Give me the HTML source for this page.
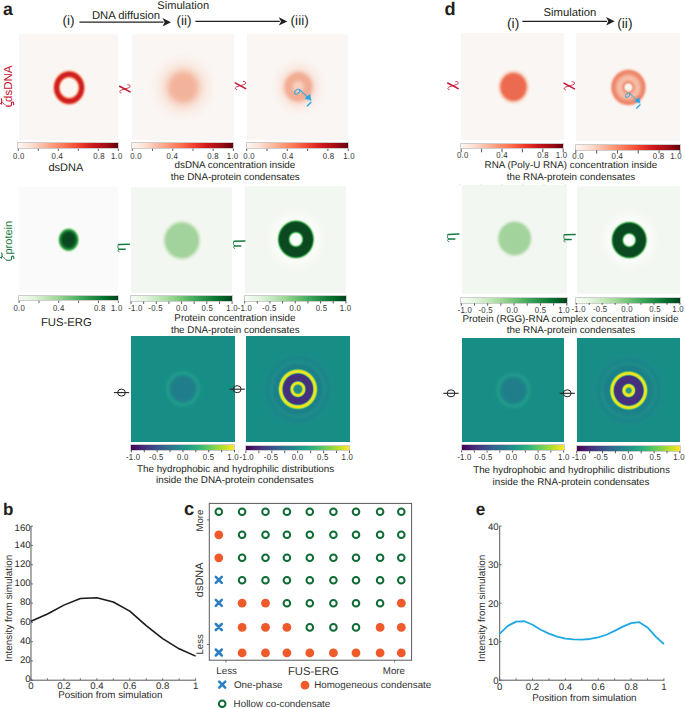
<!DOCTYPE html>
<html><head><meta charset="utf-8"><style>
html,body{margin:0;padding:0;background:#fff;}
body{width:685px;height:708px;position:relative;overflow:hidden;font-family:"Liberation Sans",sans-serif;}
svg{position:absolute;left:0;top:0;text-rendering:geometricPrecision;}
</style></head><body>
<div style="position:absolute;left:18.6px;top:33.8px;width:99.4px;height:106.7px;background:radial-gradient(ellipse 100px 108px at 50.1px 53.7px,#fcf6f3 0px,#fcf6f3 7.6px,#f8cdbd 8.8px,#ef6a4c 10px,#d42a2a 11px,#ca1d24 12.2px,#cc2026 13.4px,#e0483a 14.4px,#f29d85 15.4px,#f9dfd5 16.4px,rgba(250,246,243,0) 17.5px),#faf6f3;"></div>
<div style="position:absolute;left:132.3px;top:33.5px;width:101.5px;height:106.2px;background:radial-gradient(ellipse 100px 103px at 51.2px 53.2px,#f3b39b 0px,#f3b49c 10.5px,#f4bca6 13px,#f6cbb9 15.5px,#f8dccf 18.5px,#f9e8e0 22px,#faf0eb 27px,rgba(250,246,243,0) 34px),#faf6f3;"></div>
<div style="position:absolute;left:247px;top:34px;width:101.2px;height:105.7px;background:radial-gradient(ellipse 100px 105px at 51.4px 52.9px,#f8d3c4 0px,#f7ccbb 3.8px,#f4b9a3 6px,#f2ad94 8.2px,#f2ad94 11.2px,#f4bba6 13.2px,#f7d3c6 15px,#f9e6de 17.5px,#faf0eb 22px,rgba(250,246,243,0) 28px),#faf6f3;"></div>
<div style="position:absolute;left:460.9px;top:33px;width:102.9px;height:106.6px;background:radial-gradient(ellipse 100px 107px at 52.5px 53.9px,#ec6a4f 0px,#ec6a4f 10.6px,#ee7a60 11.9px,#f3a48e 13.2px,#f8d3c5 14.5px,#faebe4 15.9px,rgba(250,246,243,0) 17.5px),#faf6f3;"></div>
<div style="position:absolute;left:576.1px;top:33px;width:104.3px;height:108.4px;background:radial-gradient(ellipse 100px 103px at 52.4px 54.4px,#fdf4ef 0px,#fcf1ec 2.9px,#f5c0ac 3.9px,#f0977c 4.9px,#f2a68d 6.2px,#f5bca6 8px,#f5b9a3 10.5px,#f09a7f 12.8px,#ee866a 14.6px,#ef8d71 15.8px,#f3ad97 16.8px,#f8d8cc 17.8px,#faeee8 18.7px,rgba(250,246,243,0) 19.6px),#faf6f3;"></div>
<div style="position:absolute;left:19px;top:186.6px;width:99.2px;height:105px;background:radial-gradient(ellipse 100px 112px at 49.6px 52.8px,#09441c 0px,#0b4a20 5.4px,#0f5c29 6.9px,#1d7f3c 8px,#3a9e50 8.8px,#7cc67b 9.6px,#c8e7c2 10.4px,#f3f9f1 11.2px,rgba(250,250,250,0) 12px),#fafafa;"></div>
<div style="position:absolute;left:131.1px;top:186.8px;width:101.1px;height:106.2px;background:radial-gradient(ellipse 100px 104px at 50.9px 53.4px,#a3d39c 0px,#a3d39c 14.8px,#b0d9a9 16.2px,#cde7c7 17.6px,#e6f1e2 19px,rgba(243,247,241,0) 20.5px),#f3f7f1;"></div>
<div style="position:absolute;left:244.9px;top:186.4px;width:101.3px;height:106.3px;background:radial-gradient(ellipse 100px 105px at 50.9px 53.4px,#fcfdfc 0px,#fbfdfb 5.2px,#b8e0b0 6px,#48b058 6.8px,#14622c 7.6px,#0b4a20 8.4px,#0b4a20 15.8px,#14622c 16.6px,#44ac55 17.4px,#b8e0b0 18.2px,#f7fbf6 19.2px,#f9fbf8 21.5px,#f6f9f4 25.5px,rgba(243,247,241,0) 31.5px),#f3f7f1;"></div>
<div style="position:absolute;left:461.8px;top:185.3px;width:105px;height:108.6px;background:radial-gradient(ellipse 100px 103px at 52.6px 53.5px,#a3d39c 0px,#a4d49d 14px,#b0d9a9 15.2px,#cde7c7 16.4px,#e6f1e2 17.6px,rgba(243,247,241,0) 19px),#f3f7f1;"></div>
<div style="position:absolute;left:576.8px;top:185.7px;width:103.5px;height:108.2px;background:radial-gradient(ellipse 100px 104px at 52.2px 54.1px,#fcfdfc 0px,#fbfdfb 4.8px,#b8e0b0 5.6px,#48b058 6.4px,#14622c 7.2px,#0b4a20 8px,#0b4a20 15.4px,#14622c 16.2px,#44ac55 17px,#b8e0b0 17.8px,#f7fbf6 18.8px,#f9fbf8 21px,#f6f9f4 25px,rgba(243,247,241,0) 31px),#f3f7f1;"></div>
<div style="position:absolute;left:131.4px;top:336.1px;width:103.3px;height:105.5px;background:radial-gradient(ellipse 100px 103px at 52px 52.8px,#1f7e8a 0px,#1f7e8a 10px,#1f828a 11.5px,#1f8b8a 13px,#1f968a 14.5px,#1f9a89 15.6px,#1c9488 17px,#188f87 18.5px,rgba(22,142,134,0) 20px),#168e86;"></div>
<div style="position:absolute;left:245.9px;top:336.3px;width:104px;height:106.1px;background:radial-gradient(ellipse 100px 103px at 51.9px 53.2px,#23898b 0px,#23898b 3.4px,#4fb46c 4.3px,#d2e127 5px,#f2e51d 5.6px,#f2e51d 6.5px,#b6d93a 7.1px,#3a8a8c 7.7px,#40487f 8.2px,#462f7c 8.7px,#462f7c 14.2px,#40487f 14.7px,#3a8a8c 15.2px,#9ed547 15.8px,#efe41f 16.5px,#f2e51d 17.8px,#c8df30 18.5px,#58b964 19.2px,#1f8e89 19.9px,#1b7f8a 20.7px,#1c818a 23px,#1e8c89 26.5px,#1a868a 30px,#1b8c88 34px,rgba(22,142,134,0) 38px),#168e86;"></div>
<div style="position:absolute;left:461.9px;top:338px;width:102px;height:104px;background:radial-gradient(ellipse 100px 103px at 51.5px 52.4px,#1f7e8a 0px,#1f7e8a 10px,#1f828a 11.5px,#1f8b8a 13px,#1f968a 14.5px,#1f9a89 15.6px,#1c9488 17px,#188f87 18.5px,rgba(22,142,134,0) 20px),#168e86;"></div>
<div style="position:absolute;left:576.8px;top:338px;width:103.5px;height:104.4px;background:radial-gradient(ellipse 100px 102px at 51.7px 52.5px,#2a9f88 0px,#27988a 2.2px,#6cc35c 2.9px,#d8e22a 3.6px,#f2e51d 4.2px,#f2e51d 5.4px,#b6d93a 6px,#3a8a8c 6.6px,#40487f 7.1px,#462f7c 7.6px,#462f7c 13.8px,#40487f 14.3px,#3a8a8c 14.8px,#9ed547 15.4px,#efe41f 16.1px,#f2e51d 17.2px,#c8df30 17.9px,#58b964 18.6px,#1f8e89 19.3px,#1b7f8a 20.1px,#1c818a 23px,#1e8c89 26.5px,#1a868a 30px,#1b8c88 34px,rgba(22,142,134,0) 38px),#168e86;"></div>
<div style="position:absolute;left:18.3px;top:143.4px;width:100px;height:5px;background:linear-gradient(to right,#fff5f0,#fee0d2,#fcbba1,#fc9272,#fb6a4a,#ef3b2c,#cb181d,#a50f15,#67000d);box-shadow:0 0 0 0.8px rgba(150,150,150,0.6);"></div>
<div style="position:absolute;left:132.3px;top:143.2px;width:101.1px;height:5.2px;background:linear-gradient(to right,#fff5f0,#fee0d2,#fcbba1,#fc9272,#fb6a4a,#ef3b2c,#cb181d,#a50f15,#67000d);box-shadow:0 0 0 0.8px rgba(150,150,150,0.6);"></div>
<div style="position:absolute;left:246.7px;top:143.4px;width:101.5px;height:5px;background:linear-gradient(to right,#fff5f0,#fee0d2,#fcbba1,#fc9272,#fb6a4a,#ef3b2c,#cb181d,#a50f15,#67000d);box-shadow:0 0 0 0.8px rgba(150,150,150,0.6);"></div>
<div style="position:absolute;left:461.2px;top:143.5px;width:102px;height:4.9px;background:linear-gradient(to right,#fff5f0,#fee0d2,#fcbba1,#fc9272,#fb6a4a,#ef3b2c,#cb181d,#a50f15,#67000d);box-shadow:0 0 0 0.8px rgba(150,150,150,0.6);"></div>
<div style="position:absolute;left:575.8px;top:145.1px;width:104.1px;height:4.8px;background:linear-gradient(to right,#fff5f0,#fee0d2,#fcbba1,#fc9272,#fb6a4a,#ef3b2c,#cb181d,#a50f15,#67000d);box-shadow:0 0 0 0.8px rgba(150,150,150,0.6);"></div>
<div style="position:absolute;left:19.1px;top:295.5px;width:99.2px;height:4.9px;background:linear-gradient(to right,#f7fcf5,#e5f5e0,#c7e9c0,#a1d99b,#74c476,#41ab5d,#238b45,#006d2c,#00441b);box-shadow:0 0 0 0.8px rgba(150,150,150,0.6);"></div>
<div style="position:absolute;left:131px;top:296.4px;width:101.1px;height:4.7px;background:linear-gradient(to right,#f7fcf5,#e5f5e0,#c7e9c0,#a1d99b,#74c476,#41ab5d,#238b45,#006d2c,#00441b);box-shadow:0 0 0 0.8px rgba(150,150,150,0.6);"></div>
<div style="position:absolute;left:244.6px;top:296.4px;width:101.3px;height:4.4px;background:linear-gradient(to right,#f7fcf5,#e5f5e0,#c7e9c0,#a1d99b,#74c476,#41ab5d,#238b45,#006d2c,#00441b);box-shadow:0 0 0 0.8px rgba(150,150,150,0.6);"></div>
<div style="position:absolute;left:461.3px;top:298.1px;width:105.5px;height:4.8px;background:linear-gradient(to right,#f7fcf5,#e5f5e0,#c7e9c0,#a1d99b,#74c476,#41ab5d,#238b45,#006d2c,#00441b);box-shadow:0 0 0 0.8px rgba(150,150,150,0.6);"></div>
<div style="position:absolute;left:576.3px;top:298px;width:103.6px;height:4.6px;background:linear-gradient(to right,#f7fcf5,#e5f5e0,#c7e9c0,#a1d99b,#74c476,#41ab5d,#238b45,#006d2c,#00441b);box-shadow:0 0 0 0.8px rgba(150,150,150,0.6);"></div>
<div style="position:absolute;left:131.4px;top:444.9px;width:103.1px;height:4.7px;background:linear-gradient(to right,#440154,#482878,#3e4989,#31688e,#26828e,#1f9e89,#35b779,#6ece58,#b5de2b,#fde725);box-shadow:0 0 0 0.8px rgba(150,150,150,0.6);"></div>
<div style="position:absolute;left:245.9px;top:445.6px;width:103.6px;height:4.6px;background:linear-gradient(to right,#440154,#482878,#3e4989,#31688e,#26828e,#1f9e89,#35b779,#6ece58,#b5de2b,#fde725);box-shadow:0 0 0 0.8px rgba(150,150,150,0.6);"></div>
<div style="position:absolute;left:461.6px;top:445.3px;width:102px;height:4.9px;background:linear-gradient(to right,#440154,#482878,#3e4989,#31688e,#26828e,#1f9e89,#35b779,#6ece58,#b5de2b,#fde725);box-shadow:0 0 0 0.8px rgba(150,150,150,0.6);"></div>
<div style="position:absolute;left:576.7px;top:446px;width:103.2px;height:4.6px;background:linear-gradient(to right,#440154,#482878,#3e4989,#31688e,#26828e,#1f9e89,#35b779,#6ece58,#b5de2b,#fde725);box-shadow:0 0 0 0.8px rgba(150,150,150,0.6);"></div>
<svg width="685" height="708" viewBox="0 0 685 708" font-family="Liberation Sans, sans-serif">
<text x="2.9" y="14.9" font-size="17.7" text-anchor="start" font-weight="bold" fill="#231f20" font-family="Liberation Sans" font-style="normal">a</text>
<text x="444.5" y="15.2" font-size="18.2" text-anchor="start" font-weight="bold" fill="#231f20" font-family="Liberation Sans" font-style="normal">d</text>
<text x="3.1" y="514.5" font-size="17" text-anchor="start" font-weight="bold" fill="#231f20" font-family="Liberation Sans" font-style="normal">b</text>
<text x="183.9" y="514.7" font-size="18.4" text-anchor="start" font-weight="bold" fill="#231f20" font-family="Liberation Sans" font-style="normal">c</text>
<text x="475.8" y="515.2" font-size="17.1" text-anchor="start" font-weight="bold" fill="#231f20" font-family="Liberation Sans" font-style="normal">e</text>
<text x="62.5" y="25.4" font-size="13.6" text-anchor="start" font-weight="normal" fill="#231f20" font-family="Liberation Sans" font-style="normal">(i)</text>
<line x1="79.4" y1="22.2" x2="163.5" y2="22.2" stroke="#231f20" stroke-width="1.3"/>
<path d="M171 22.2 L162.5 18 L164.7 22.2 L162.5 26.4 Z" fill="#231f20"/>
<text x="91.9" y="19" font-size="11.3" text-anchor="start" font-weight="normal" fill="#231f20" font-family="Liberation Sans" font-style="normal">DNA diffusion</text>
<text x="157.3" y="9.2" font-size="11.1" text-anchor="start" font-weight="normal" fill="#231f20" font-family="Liberation Sans" font-style="normal">Simulation</text>
<text x="176.4" y="25.4" font-size="13.6" text-anchor="start" font-weight="normal" fill="#231f20" font-family="Liberation Sans" font-style="normal">(ii)</text>
<line x1="195.4" y1="21.4" x2="279.8" y2="21.4" stroke="#231f20" stroke-width="1.3"/>
<path d="M287.3 21.4 L278.8 17.2 L281 21.4 L278.8 25.6 Z" fill="#231f20"/>
<text x="290.6" y="25.4" font-size="13.6" text-anchor="start" font-weight="normal" fill="#231f20" font-family="Liberation Sans" font-style="normal">(iii)</text>
<text x="507" y="27.5" font-size="13.8" text-anchor="start" font-weight="normal" fill="#231f20" font-family="Liberation Sans" font-style="normal">(i)</text>
<line x1="522.3" y1="21.3" x2="607.1" y2="21.3" stroke="#231f20" stroke-width="1.3"/>
<path d="M614.6 21.3 L606.1 17.1 L608.3 21.3 L606.1 25.5 Z" fill="#231f20"/>
<text x="543.5" y="15.8" font-size="11.3" text-anchor="start" font-weight="normal" fill="#231f20" font-family="Liberation Sans" font-style="normal">Simulation</text>
<text x="617.2" y="27.5" font-size="13.8" text-anchor="start" font-weight="normal" fill="#231f20" font-family="Liberation Sans" font-style="normal">(ii)</text>
<g transform="translate(124.9 88.75)" fill="none" stroke="#c4122f" stroke-linecap="round"><path d="M-5.3 -2.5 L5.2 3.2" stroke-width="1.45"/><path d="M2.8 -4.0 C4.8 -4.4 6.0 -2.6 4.8 -1.5 C3.5 -0.5 -1.0 0.2 -3.8 1.4 C-5.8 2.3 -5.6 4.0 -3.8 4.2" stroke-width="0.85"/></g>
<g transform="translate(240.5 85.4)" fill="none" stroke="#c4122f" stroke-linecap="round"><path d="M-5.3 -2.5 L5.2 3.2" stroke-width="1.45"/><path d="M2.8 -4.0 C4.8 -4.4 6.0 -2.6 4.8 -1.5 C3.5 -0.5 -1.0 0.2 -3.8 1.4 C-5.8 2.3 -5.6 4.0 -3.8 4.2" stroke-width="0.85"/></g>
<g transform="translate(453 85.5)" fill="none" stroke="#c4122f" stroke-linecap="round"><path d="M-5.3 -2.5 L5.2 3.2" stroke-width="1.45"/><path d="M2.8 -4.0 C4.8 -4.4 6.0 -2.6 4.8 -1.5 C3.5 -0.5 -1.0 0.2 -3.8 1.4 C-5.8 2.3 -5.6 4.0 -3.8 4.2" stroke-width="0.85"/></g>
<g transform="translate(569.3 85.7)" fill="none" stroke="#c4122f" stroke-linecap="round"><path d="M-5.3 -2.5 L5.2 3.2" stroke-width="1.45"/><path d="M2.8 -4.0 C4.8 -4.4 6.0 -2.6 4.8 -1.5 C3.5 -0.5 -1.0 0.2 -3.8 1.4 C-5.8 2.3 -5.6 4.0 -3.8 4.2" stroke-width="0.85"/></g>
<text x="0" y="0" font-size="11.5" text-anchor="start" font-weight="normal" fill="#c4122f" font-family="Liberation Sans" font-style="normal" transform="translate(11.7 102) rotate(-90)">dsDNA</text>
<g transform="translate(0 98.9)" fill="none" stroke="#c4122f" stroke-linecap="round"><path d="M1.4 -0.1 Q2.5 2.5 1.2 5.0" stroke-width="1.1"/><path d="M0.1 4.4 L1.2 5.0" stroke-width="0.8"/><path d="M1.6 2.9 L6.6 7.2" stroke-width="0.75"/><path d="M6.6 7.2 L10.2 7.2 Q11.5 7.1 11.4 5.6 L11.4 3.9 Q11.8 2.8 13.0 3.2 Q13.9 3.7 13.6 5.7" stroke-width="1.1"/></g>
<text x="65.85" y="171.3" font-size="11" text-anchor="middle" font-weight="normal" fill="#231f20" font-family="Liberation Sans" font-style="normal">dsDNA</text>
<text x="234.9" y="168.2" font-size="9.83" text-anchor="middle" font-weight="normal" fill="#231f20" font-family="Liberation Sans" font-style="normal">dsDNA concentration inside</text>
<text x="235.3" y="180.1" font-size="9.83" text-anchor="middle" font-weight="normal" fill="#231f20" font-family="Liberation Sans" font-style="normal">the DNA-protein condensates</text>
<text x="570.9" y="168" font-size="9.83" text-anchor="middle" font-weight="normal" fill="#231f20" font-family="Liberation Sans" font-style="normal">RNA (Poly-U RNA) concentration inside</text>
<text x="571" y="180.4" font-size="9.8" text-anchor="middle" font-weight="normal" fill="#231f20" font-family="Liberation Sans" font-style="normal">the RNA-protein condensates</text>
<line x1="460" y1="184" x2="460" y2="185.2" stroke="#c8c8c8" stroke-width="0.6"/>
<line x1="481" y1="184" x2="481" y2="185.2" stroke="#c8c8c8" stroke-width="0.6"/>
<line x1="502" y1="184" x2="502" y2="185.2" stroke="#c8c8c8" stroke-width="0.6"/>
<line x1="523" y1="184" x2="523" y2="185.2" stroke="#c8c8c8" stroke-width="0.6"/>
<line x1="544" y1="184" x2="544" y2="185.2" stroke="#c8c8c8" stroke-width="0.6"/>
<line x1="565" y1="184" x2="565" y2="185.2" stroke="#c8c8c8" stroke-width="0.6"/>
<g transform="translate(123.4 247.6)" fill="none" stroke="#167a41" stroke-linecap="round"><path d="M-4.9 -3.0 L5.9 -3.3" stroke-width="1.5"/><path d="M-4.9 -3.0 C-6.0 -2.4 -6.0 0.6 -4.5 1.7" stroke-width="0.9"/><path d="M-4.5 1.7 L1.8 1.7" stroke-width="1.5"/><path d="M-4.6 1.8 C-6.0 2.3 -5.8 3.9 -4.2 4.4" stroke-width="0.8"/></g>
<g transform="translate(239 244.2)" fill="none" stroke="#167a41" stroke-linecap="round"><path d="M-4.9 -3.0 L5.9 -3.3" stroke-width="1.5"/><path d="M-4.9 -3.0 C-6.0 -2.4 -6.0 0.6 -4.5 1.7" stroke-width="0.9"/><path d="M-4.5 1.7 L1.8 1.7" stroke-width="1.5"/><path d="M-4.6 1.8 C-6.0 2.3 -5.8 3.9 -4.2 4.4" stroke-width="0.8"/></g>
<g transform="translate(453 237.4)" fill="none" stroke="#167a41" stroke-linecap="round"><path d="M-4.9 -3.0 L5.9 -3.3" stroke-width="1.5"/><path d="M-4.9 -3.0 C-6.0 -2.4 -6.0 0.6 -4.5 1.7" stroke-width="0.9"/><path d="M-4.5 1.7 L1.8 1.7" stroke-width="1.5"/><path d="M-4.6 1.8 C-6.0 2.3 -5.8 3.9 -4.2 4.4" stroke-width="0.8"/></g>
<g transform="translate(569.3 237.7)" fill="none" stroke="#167a41" stroke-linecap="round"><path d="M-4.9 -3.0 L5.9 -3.3" stroke-width="1.5"/><path d="M-4.9 -3.0 C-6.0 -2.4 -6.0 0.6 -4.5 1.7" stroke-width="0.9"/><path d="M-4.5 1.7 L1.8 1.7" stroke-width="1.5"/><path d="M-4.6 1.8 C-6.0 2.3 -5.8 3.9 -4.2 4.4" stroke-width="0.8"/></g>
<text x="0" y="0" font-size="11" text-anchor="start" font-weight="normal" fill="#167a41" font-family="Liberation Sans" font-style="normal" transform="translate(12 254.5) rotate(-90)">protein</text>
<g transform="translate(0.2 253)" fill="none" stroke="#167a41" stroke-linecap="round"><path d="M1.4 -0.1 Q2.5 2.5 1.2 5.0" stroke-width="1.1"/><path d="M0.1 4.4 L1.2 5.0" stroke-width="0.8"/><path d="M1.6 2.9 L6.6 7.2" stroke-width="0.75"/><path d="M6.6 7.2 L10.2 7.2 Q11.5 7.1 11.4 5.6 L11.4 3.9 Q11.8 2.8 13.0 3.2 Q13.9 3.7 13.6 5.7" stroke-width="1.1"/></g>
<text x="66.4" y="325.6" font-size="11.3" text-anchor="middle" font-weight="normal" fill="#231f20" font-family="Liberation Sans" font-style="normal">FUS-ERG</text>
<text x="234.9" y="321" font-size="9.82" text-anchor="middle" font-weight="normal" fill="#231f20" font-family="Liberation Sans" font-style="normal">Protein concentration inside</text>
<text x="235.3" y="332.6" font-size="9.82" text-anchor="middle" font-weight="normal" fill="#231f20" font-family="Liberation Sans" font-style="normal">the DNA-protein condensates</text>
<text x="570.5" y="322.2" font-size="9.85" text-anchor="middle" font-weight="normal" fill="#231f20" font-family="Liberation Sans" font-style="normal">Protein (RGG)-RNA complex concentration inside</text>
<text x="571" y="332.9" font-size="9.8" text-anchor="middle" font-weight="normal" fill="#231f20" font-family="Liberation Sans" font-style="normal">the RNA-protein condensates</text>
<line x1="113.9" y1="392.6" x2="129.1" y2="392.6" stroke="#222" stroke-width="1.1"/>
<ellipse cx="121.5" cy="392.6" rx="3.9" ry="3.5" fill="none" stroke="#222" stroke-width="1.0"/>
<line x1="229.6" y1="389.2" x2="244.8" y2="389.2" stroke="#222" stroke-width="1.1"/>
<ellipse cx="237.2" cy="389.2" rx="3.9" ry="3.5" fill="none" stroke="#222" stroke-width="1.0"/>
<line x1="443.4" y1="393.3" x2="458.6" y2="393.3" stroke="#222" stroke-width="1.1"/>
<ellipse cx="451" cy="393.3" rx="3.9" ry="3.5" fill="none" stroke="#222" stroke-width="1.0"/>
<line x1="559.6" y1="393.3" x2="574.8" y2="393.3" stroke="#222" stroke-width="1.1"/>
<ellipse cx="567.2" cy="393.3" rx="3.9" ry="3.5" fill="none" stroke="#222" stroke-width="1.0"/>
<text x="235.6" y="471.8" font-size="9.83" text-anchor="middle" font-weight="normal" fill="#231f20" font-family="Liberation Sans" font-style="normal">The hydrophobic and hydrophilic distributions</text>
<text x="234.8" y="483.1" font-size="9.85" text-anchor="middle" font-weight="normal" fill="#231f20" font-family="Liberation Sans" font-style="normal">inside the DNA-protein condensates</text>
<text x="571.5" y="472.7" font-size="9.8" text-anchor="middle" font-weight="normal" fill="#231f20" font-family="Liberation Sans" font-style="normal">The hydrophobic and hydrophilic distributions</text>
<text x="571" y="484.5" font-size="9.8" text-anchor="middle" font-weight="normal" fill="#231f20" font-family="Liberation Sans" font-style="normal">inside the RNA-protein condensates</text>
<line x1="18.3" y1="148.8" x2="18.3" y2="150.9" stroke="#444" stroke-width="0.9"/>
<line x1="38.3" y1="148.8" x2="38.3" y2="150.9" stroke="#444" stroke-width="0.9"/>
<line x1="58.3" y1="148.8" x2="58.3" y2="150.9" stroke="#444" stroke-width="0.9"/>
<line x1="78.3" y1="148.8" x2="78.3" y2="150.9" stroke="#444" stroke-width="0.9"/>
<line x1="98.3" y1="148.8" x2="98.3" y2="150.9" stroke="#444" stroke-width="0.9"/>
<line x1="118.3" y1="148.8" x2="118.3" y2="150.9" stroke="#444" stroke-width="0.9"/>
<text x="0" y="0" font-size="7.8" text-anchor="start" font-weight="normal" fill="#333" font-family="Liberation Sans" font-style="normal" transform="translate(12.91 158.5) scale(1 1.12)" letter-spacing="0.25">0.0</text>
<text x="0" y="0" font-size="7.8" text-anchor="start" font-weight="normal" fill="#333" font-family="Liberation Sans" font-style="normal" transform="translate(51.59 158.5) scale(1 1.12)" letter-spacing="0.25">0.4</text>
<text x="0" y="0" font-size="7.8" text-anchor="start" font-weight="normal" fill="#333" font-family="Liberation Sans" font-style="normal" transform="translate(93.23 158.5) scale(1 1.12)" letter-spacing="0.25">0.8</text>
<text x="0" y="0" font-size="7.8" text-anchor="start" font-weight="normal" fill="#333" font-family="Liberation Sans" font-style="normal" transform="translate(111.02 158.5) scale(1 1.12)" letter-spacing="0.25">1.0</text>
<line x1="132.3" y1="148.8" x2="132.3" y2="150.8" stroke="#444" stroke-width="0.9"/>
<line x1="152.52" y1="148.8" x2="152.52" y2="150.8" stroke="#444" stroke-width="0.9"/>
<line x1="172.74" y1="148.8" x2="172.74" y2="150.8" stroke="#444" stroke-width="0.9"/>
<line x1="192.96" y1="148.8" x2="192.96" y2="150.8" stroke="#444" stroke-width="0.9"/>
<line x1="213.18" y1="148.8" x2="213.18" y2="150.8" stroke="#444" stroke-width="0.9"/>
<line x1="233.4" y1="148.8" x2="233.4" y2="150.8" stroke="#444" stroke-width="0.9"/>
<text x="0" y="0" font-size="7.8" text-anchor="start" font-weight="normal" fill="#333" font-family="Liberation Sans" font-style="normal" transform="translate(130.26 158.5) scale(1 1.12)" letter-spacing="0.25">0.0</text>
<text x="0" y="0" font-size="7.8" text-anchor="start" font-weight="normal" fill="#333" font-family="Liberation Sans" font-style="normal" transform="translate(166.44 158.5) scale(1 1.12)" letter-spacing="0.25">0.4</text>
<text x="0" y="0" font-size="7.8" text-anchor="start" font-weight="normal" fill="#333" font-family="Liberation Sans" font-style="normal" transform="translate(207.18 158.5) scale(1 1.12)" letter-spacing="0.25">0.8</text>
<text x="0" y="0" font-size="7.8" text-anchor="start" font-weight="normal" fill="#333" font-family="Liberation Sans" font-style="normal" transform="translate(226.67 158.5) scale(1 1.12)" letter-spacing="0.25">1.0</text>
<line x1="246.7" y1="148.8" x2="246.7" y2="151" stroke="#444" stroke-width="0.9"/>
<line x1="267" y1="148.8" x2="267" y2="151" stroke="#444" stroke-width="0.9"/>
<line x1="287.3" y1="148.8" x2="287.3" y2="151" stroke="#444" stroke-width="0.9"/>
<line x1="307.6" y1="148.8" x2="307.6" y2="151" stroke="#444" stroke-width="0.9"/>
<line x1="327.9" y1="148.8" x2="327.9" y2="151" stroke="#444" stroke-width="0.9"/>
<line x1="348.2" y1="148.8" x2="348.2" y2="151" stroke="#444" stroke-width="0.9"/>
<text x="0" y="0" font-size="7.8" text-anchor="start" font-weight="normal" fill="#333" font-family="Liberation Sans" font-style="normal" transform="translate(243.36 158.5) scale(1 1.12)" letter-spacing="0.25">0.0</text>
<text x="0" y="0" font-size="7.8" text-anchor="start" font-weight="normal" fill="#333" font-family="Liberation Sans" font-style="normal" transform="translate(281.99 158.5) scale(1 1.12)" letter-spacing="0.25">0.4</text>
<text x="0" y="0" font-size="7.8" text-anchor="start" font-weight="normal" fill="#333" font-family="Liberation Sans" font-style="normal" transform="translate(322.78 158.5) scale(1 1.12)" letter-spacing="0.25">0.8</text>
<text x="0" y="0" font-size="7.8" text-anchor="start" font-weight="normal" fill="#333" font-family="Liberation Sans" font-style="normal" transform="translate(343.27 158.5) scale(1 1.12)" letter-spacing="0.25">1.0</text>
<line x1="461.2" y1="148.8" x2="461.2" y2="152.3" stroke="#444" stroke-width="0.9"/>
<line x1="481.6" y1="148.8" x2="481.6" y2="152.3" stroke="#444" stroke-width="0.9"/>
<line x1="502" y1="148.8" x2="502" y2="152.3" stroke="#444" stroke-width="0.9"/>
<line x1="522.4" y1="148.8" x2="522.4" y2="152.3" stroke="#444" stroke-width="0.9"/>
<line x1="542.8" y1="148.8" x2="542.8" y2="152.3" stroke="#444" stroke-width="0.9"/>
<line x1="563.2" y1="148.8" x2="563.2" y2="152.3" stroke="#444" stroke-width="0.9"/>
<text x="0" y="0" font-size="7.8" text-anchor="start" font-weight="normal" fill="#333" font-family="Liberation Sans" font-style="normal" transform="translate(456.91 157.7) scale(1 1.12)" letter-spacing="0.25">0.0</text>
<text x="0" y="0" font-size="7.8" text-anchor="start" font-weight="normal" fill="#333" font-family="Liberation Sans" font-style="normal" transform="translate(496.34 157.7) scale(1 1.12)" letter-spacing="0.25">0.4</text>
<text x="0" y="0" font-size="7.8" text-anchor="start" font-weight="normal" fill="#333" font-family="Liberation Sans" font-style="normal" transform="translate(537.33 157.7) scale(1 1.12)" letter-spacing="0.25">0.8</text>
<text x="0" y="0" font-size="7.8" text-anchor="start" font-weight="normal" fill="#333" font-family="Liberation Sans" font-style="normal" transform="translate(555.72 157.7) scale(1 1.12)" letter-spacing="0.25">1.0</text>
<line x1="575.8" y1="150.3" x2="575.8" y2="153.5" stroke="#444" stroke-width="0.9"/>
<line x1="596.62" y1="150.3" x2="596.62" y2="153.5" stroke="#444" stroke-width="0.9"/>
<line x1="617.44" y1="150.3" x2="617.44" y2="153.5" stroke="#444" stroke-width="0.9"/>
<line x1="638.26" y1="150.3" x2="638.26" y2="153.5" stroke="#444" stroke-width="0.9"/>
<line x1="659.08" y1="150.3" x2="659.08" y2="153.5" stroke="#444" stroke-width="0.9"/>
<line x1="679.9" y1="150.3" x2="679.9" y2="153.5" stroke="#444" stroke-width="0.9"/>
<text x="0" y="0" font-size="7.8" text-anchor="start" font-weight="normal" fill="#333" font-family="Liberation Sans" font-style="normal" transform="translate(572.31 159.2) scale(1 1.12)" letter-spacing="0.25">0.0</text>
<text x="0" y="0" font-size="7.8" text-anchor="start" font-weight="normal" fill="#333" font-family="Liberation Sans" font-style="normal" transform="translate(611.59 159.2) scale(1 1.12)" letter-spacing="0.25">0.4</text>
<text x="0" y="0" font-size="7.8" text-anchor="start" font-weight="normal" fill="#333" font-family="Liberation Sans" font-style="normal" transform="translate(652.83 159.2) scale(1 1.12)" letter-spacing="0.25">0.8</text>
<text x="0" y="0" font-size="7.8" text-anchor="start" font-weight="normal" fill="#333" font-family="Liberation Sans" font-style="normal" transform="translate(670.22 159.2) scale(1 1.12)" letter-spacing="0.25">1.0</text>
<line x1="19.1" y1="300.8" x2="19.1" y2="302.9" stroke="#444" stroke-width="0.9"/>
<line x1="38.94" y1="300.8" x2="38.94" y2="302.9" stroke="#444" stroke-width="0.9"/>
<line x1="58.78" y1="300.8" x2="58.78" y2="302.9" stroke="#444" stroke-width="0.9"/>
<line x1="78.62" y1="300.8" x2="78.62" y2="302.9" stroke="#444" stroke-width="0.9"/>
<line x1="98.46" y1="300.8" x2="98.46" y2="302.9" stroke="#444" stroke-width="0.9"/>
<line x1="118.3" y1="300.8" x2="118.3" y2="302.9" stroke="#444" stroke-width="0.9"/>
<text x="0" y="0" font-size="7.8" text-anchor="start" font-weight="normal" fill="#333" font-family="Liberation Sans" font-style="normal" transform="translate(13.51 311.2) scale(1 1.12)" letter-spacing="0.25">0.0</text>
<text x="0" y="0" font-size="7.8" text-anchor="start" font-weight="normal" fill="#333" font-family="Liberation Sans" font-style="normal" transform="translate(52.89 311.2) scale(1 1.12)" letter-spacing="0.25">0.4</text>
<text x="0" y="0" font-size="7.8" text-anchor="start" font-weight="normal" fill="#333" font-family="Liberation Sans" font-style="normal" transform="translate(93.93 311.2) scale(1 1.12)" letter-spacing="0.25">0.8</text>
<text x="0" y="0" font-size="7.8" text-anchor="start" font-weight="normal" fill="#333" font-family="Liberation Sans" font-style="normal" transform="translate(111.02 311.2) scale(1 1.12)" letter-spacing="0.25">1.0</text>
<line x1="131" y1="301.5" x2="131" y2="303.9" stroke="#444" stroke-width="0.9"/>
<line x1="143.64" y1="301.5" x2="143.64" y2="303.9" stroke="#444" stroke-width="0.9"/>
<line x1="156.28" y1="301.5" x2="156.28" y2="303.9" stroke="#444" stroke-width="0.9"/>
<line x1="168.91" y1="301.5" x2="168.91" y2="303.9" stroke="#444" stroke-width="0.9"/>
<line x1="181.55" y1="301.5" x2="181.55" y2="303.9" stroke="#444" stroke-width="0.9"/>
<line x1="194.19" y1="301.5" x2="194.19" y2="303.9" stroke="#444" stroke-width="0.9"/>
<line x1="206.82" y1="301.5" x2="206.82" y2="303.9" stroke="#444" stroke-width="0.9"/>
<line x1="219.46" y1="301.5" x2="219.46" y2="303.9" stroke="#444" stroke-width="0.9"/>
<line x1="232.1" y1="301.5" x2="232.1" y2="303.9" stroke="#444" stroke-width="0.9"/>
<text x="0" y="0" font-size="7.8" text-anchor="start" font-weight="normal" fill="#333" font-family="Liberation Sans" font-style="normal" transform="translate(128.23 310.9) scale(1 1.12)" letter-spacing="0.25">-1.0</text>
<text x="0" y="0" font-size="7.8" text-anchor="start" font-weight="normal" fill="#333" font-family="Liberation Sans" font-style="normal" transform="translate(148.35 310.9) scale(1 1.12)" letter-spacing="0.25">-0.5</text>
<text x="0" y="0" font-size="7.8" text-anchor="start" font-weight="normal" fill="#333" font-family="Liberation Sans" font-style="normal" transform="translate(176.01 310.9) scale(1 1.12)" letter-spacing="0.25">0.0</text>
<text x="0" y="0" font-size="7.8" text-anchor="start" font-weight="normal" fill="#333" font-family="Liberation Sans" font-style="normal" transform="translate(201.53 310.9) scale(1 1.12)" letter-spacing="0.25">0.5</text>
<text x="0" y="0" font-size="7.8" text-anchor="start" font-weight="normal" fill="#333" font-family="Liberation Sans" font-style="normal" transform="translate(226.32 310.9) scale(1 1.12)" letter-spacing="0.25">1.0</text>
<line x1="244.6" y1="301.2" x2="244.6" y2="303.5" stroke="#444" stroke-width="0.9"/>
<line x1="257.26" y1="301.2" x2="257.26" y2="303.5" stroke="#444" stroke-width="0.9"/>
<line x1="269.93" y1="301.2" x2="269.93" y2="303.5" stroke="#444" stroke-width="0.9"/>
<line x1="282.59" y1="301.2" x2="282.59" y2="303.5" stroke="#444" stroke-width="0.9"/>
<line x1="295.25" y1="301.2" x2="295.25" y2="303.5" stroke="#444" stroke-width="0.9"/>
<line x1="307.91" y1="301.2" x2="307.91" y2="303.5" stroke="#444" stroke-width="0.9"/>
<line x1="320.57" y1="301.2" x2="320.57" y2="303.5" stroke="#444" stroke-width="0.9"/>
<line x1="333.24" y1="301.2" x2="333.24" y2="303.5" stroke="#444" stroke-width="0.9"/>
<line x1="345.9" y1="301.2" x2="345.9" y2="303.5" stroke="#444" stroke-width="0.9"/>
<text x="0" y="0" font-size="7.8" text-anchor="start" font-weight="normal" fill="#333" font-family="Liberation Sans" font-style="normal" transform="translate(237.68 310.9) scale(1 1.12)" letter-spacing="0.25">-1.0</text>
<text x="0" y="0" font-size="7.8" text-anchor="start" font-weight="normal" fill="#333" font-family="Liberation Sans" font-style="normal" transform="translate(262.1 310.9) scale(1 1.12)" letter-spacing="0.25">-0.5</text>
<text x="0" y="0" font-size="7.8" text-anchor="start" font-weight="normal" fill="#333" font-family="Liberation Sans" font-style="normal" transform="translate(289.56 310.9) scale(1 1.12)" letter-spacing="0.25">0.0</text>
<text x="0" y="0" font-size="7.8" text-anchor="start" font-weight="normal" fill="#333" font-family="Liberation Sans" font-style="normal" transform="translate(315.63 310.9) scale(1 1.12)" letter-spacing="0.25">0.5</text>
<text x="0" y="0" font-size="7.8" text-anchor="start" font-weight="normal" fill="#333" font-family="Liberation Sans" font-style="normal" transform="translate(339.72 310.9) scale(1 1.12)" letter-spacing="0.25">1.0</text>
<line x1="461.3" y1="303.3" x2="461.3" y2="305.7" stroke="#444" stroke-width="0.9"/>
<line x1="474.49" y1="303.3" x2="474.49" y2="305.7" stroke="#444" stroke-width="0.9"/>
<line x1="487.68" y1="303.3" x2="487.68" y2="305.7" stroke="#444" stroke-width="0.9"/>
<line x1="500.86" y1="303.3" x2="500.86" y2="305.7" stroke="#444" stroke-width="0.9"/>
<line x1="514.05" y1="303.3" x2="514.05" y2="305.7" stroke="#444" stroke-width="0.9"/>
<line x1="527.24" y1="303.3" x2="527.24" y2="305.7" stroke="#444" stroke-width="0.9"/>
<line x1="540.42" y1="303.3" x2="540.42" y2="305.7" stroke="#444" stroke-width="0.9"/>
<line x1="553.61" y1="303.3" x2="553.61" y2="305.7" stroke="#444" stroke-width="0.9"/>
<line x1="566.8" y1="303.3" x2="566.8" y2="305.7" stroke="#444" stroke-width="0.9"/>
<text x="0" y="0" font-size="7.8" text-anchor="start" font-weight="normal" fill="#333" font-family="Liberation Sans" font-style="normal" transform="translate(457.58 312.6) scale(1 1.12)" letter-spacing="0.25">-1.0</text>
<text x="0" y="0" font-size="7.8" text-anchor="start" font-weight="normal" fill="#333" font-family="Liberation Sans" font-style="normal" transform="translate(478.45 312.6) scale(1 1.12)" letter-spacing="0.25">-0.5</text>
<text x="0" y="0" font-size="7.8" text-anchor="start" font-weight="normal" fill="#333" font-family="Liberation Sans" font-style="normal" transform="translate(506.56 312.6) scale(1 1.12)" letter-spacing="0.25">0.0</text>
<text x="0" y="0" font-size="7.8" text-anchor="start" font-weight="normal" fill="#333" font-family="Liberation Sans" font-style="normal" transform="translate(534.63 312.6) scale(1 1.12)" letter-spacing="0.25">0.5</text>
<text x="0" y="0" font-size="7.8" text-anchor="start" font-weight="normal" fill="#333" font-family="Liberation Sans" font-style="normal" transform="translate(558.32 312.6) scale(1 1.12)" letter-spacing="0.25">1.0</text>
<line x1="576.3" y1="303" x2="576.3" y2="304.8" stroke="#444" stroke-width="0.9"/>
<line x1="589.25" y1="303" x2="589.25" y2="304.8" stroke="#444" stroke-width="0.9"/>
<line x1="602.2" y1="303" x2="602.2" y2="304.8" stroke="#444" stroke-width="0.9"/>
<line x1="615.15" y1="303" x2="615.15" y2="304.8" stroke="#444" stroke-width="0.9"/>
<line x1="628.1" y1="303" x2="628.1" y2="304.8" stroke="#444" stroke-width="0.9"/>
<line x1="641.05" y1="303" x2="641.05" y2="304.8" stroke="#444" stroke-width="0.9"/>
<line x1="654" y1="303" x2="654" y2="304.8" stroke="#444" stroke-width="0.9"/>
<line x1="666.95" y1="303" x2="666.95" y2="304.8" stroke="#444" stroke-width="0.9"/>
<line x1="679.9" y1="303" x2="679.9" y2="304.8" stroke="#444" stroke-width="0.9"/>
<text x="0" y="0" font-size="7.8" text-anchor="start" font-weight="normal" fill="#333" font-family="Liberation Sans" font-style="normal" transform="translate(571.38 312.1) scale(1 1.12)" letter-spacing="0.25">-1.0</text>
<text x="0" y="0" font-size="7.8" text-anchor="start" font-weight="normal" fill="#333" font-family="Liberation Sans" font-style="normal" transform="translate(592.95 312.1) scale(1 1.12)" letter-spacing="0.25">-0.5</text>
<text x="0" y="0" font-size="7.8" text-anchor="start" font-weight="normal" fill="#333" font-family="Liberation Sans" font-style="normal" transform="translate(621.26 312.1) scale(1 1.12)" letter-spacing="0.25">0.0</text>
<text x="0" y="0" font-size="7.8" text-anchor="start" font-weight="normal" fill="#333" font-family="Liberation Sans" font-style="normal" transform="translate(649.18 312.1) scale(1 1.12)" letter-spacing="0.25">0.5</text>
<text x="0" y="0" font-size="7.8" text-anchor="start" font-weight="normal" fill="#333" font-family="Liberation Sans" font-style="normal" transform="translate(672.32 312.1) scale(1 1.12)" letter-spacing="0.25">1.0</text>
<line x1="131.4" y1="450" x2="131.4" y2="452.3" stroke="#444" stroke-width="0.9"/>
<line x1="144.29" y1="450" x2="144.29" y2="452.3" stroke="#444" stroke-width="0.9"/>
<line x1="157.18" y1="450" x2="157.18" y2="452.3" stroke="#444" stroke-width="0.9"/>
<line x1="170.06" y1="450" x2="170.06" y2="452.3" stroke="#444" stroke-width="0.9"/>
<line x1="182.95" y1="450" x2="182.95" y2="452.3" stroke="#444" stroke-width="0.9"/>
<line x1="195.84" y1="450" x2="195.84" y2="452.3" stroke="#444" stroke-width="0.9"/>
<line x1="208.72" y1="450" x2="208.72" y2="452.3" stroke="#444" stroke-width="0.9"/>
<line x1="221.61" y1="450" x2="221.61" y2="452.3" stroke="#444" stroke-width="0.9"/>
<line x1="234.5" y1="450" x2="234.5" y2="452.3" stroke="#444" stroke-width="0.9"/>
<text x="0" y="0" font-size="7.8" text-anchor="start" font-weight="normal" fill="#333" font-family="Liberation Sans" font-style="normal" transform="translate(125.98 460.3) scale(1 1.12)" letter-spacing="0.25">-1.0</text>
<text x="0" y="0" font-size="7.8" text-anchor="start" font-weight="normal" fill="#333" font-family="Liberation Sans" font-style="normal" transform="translate(149.05 460.3) scale(1 1.12)" letter-spacing="0.25">-0.5</text>
<text x="0" y="0" font-size="7.8" text-anchor="start" font-weight="normal" fill="#333" font-family="Liberation Sans" font-style="normal" transform="translate(177.11 460.3) scale(1 1.12)" letter-spacing="0.25">0.0</text>
<text x="0" y="0" font-size="7.8" text-anchor="start" font-weight="normal" fill="#333" font-family="Liberation Sans" font-style="normal" transform="translate(202.78 460.3) scale(1 1.12)" letter-spacing="0.25">0.5</text>
<text x="0" y="0" font-size="7.8" text-anchor="start" font-weight="normal" fill="#333" font-family="Liberation Sans" font-style="normal" transform="translate(227.32 460.3) scale(1 1.12)" letter-spacing="0.25">1.0</text>
<line x1="245.9" y1="450.6" x2="245.9" y2="453.1" stroke="#444" stroke-width="0.9"/>
<line x1="258.85" y1="450.6" x2="258.85" y2="453.1" stroke="#444" stroke-width="0.9"/>
<line x1="271.8" y1="450.6" x2="271.8" y2="453.1" stroke="#444" stroke-width="0.9"/>
<line x1="284.75" y1="450.6" x2="284.75" y2="453.1" stroke="#444" stroke-width="0.9"/>
<line x1="297.7" y1="450.6" x2="297.7" y2="453.1" stroke="#444" stroke-width="0.9"/>
<line x1="310.65" y1="450.6" x2="310.65" y2="453.1" stroke="#444" stroke-width="0.9"/>
<line x1="323.6" y1="450.6" x2="323.6" y2="453.1" stroke="#444" stroke-width="0.9"/>
<line x1="336.55" y1="450.6" x2="336.55" y2="453.1" stroke="#444" stroke-width="0.9"/>
<line x1="349.5" y1="450.6" x2="349.5" y2="453.1" stroke="#444" stroke-width="0.9"/>
<text x="0" y="0" font-size="7.8" text-anchor="start" font-weight="normal" fill="#333" font-family="Liberation Sans" font-style="normal" transform="translate(239.48 460.3) scale(1 1.12)" letter-spacing="0.25">-1.0</text>
<text x="0" y="0" font-size="7.8" text-anchor="start" font-weight="normal" fill="#333" font-family="Liberation Sans" font-style="normal" transform="translate(263.8 460.3) scale(1 1.12)" letter-spacing="0.25">-0.5</text>
<text x="0" y="0" font-size="7.8" text-anchor="start" font-weight="normal" fill="#333" font-family="Liberation Sans" font-style="normal" transform="translate(291.66 460.3) scale(1 1.12)" letter-spacing="0.25">0.0</text>
<text x="0" y="0" font-size="7.8" text-anchor="start" font-weight="normal" fill="#333" font-family="Liberation Sans" font-style="normal" transform="translate(316.93 460.3) scale(1 1.12)" letter-spacing="0.25">0.5</text>
<text x="0" y="0" font-size="7.8" text-anchor="start" font-weight="normal" fill="#333" font-family="Liberation Sans" font-style="normal" transform="translate(341.57 460.3) scale(1 1.12)" letter-spacing="0.25">1.0</text>
<line x1="461.6" y1="450.6" x2="461.6" y2="452.6" stroke="#444" stroke-width="0.9"/>
<line x1="474.35" y1="450.6" x2="474.35" y2="452.6" stroke="#444" stroke-width="0.9"/>
<line x1="487.1" y1="450.6" x2="487.1" y2="452.6" stroke="#444" stroke-width="0.9"/>
<line x1="499.85" y1="450.6" x2="499.85" y2="452.6" stroke="#444" stroke-width="0.9"/>
<line x1="512.6" y1="450.6" x2="512.6" y2="452.6" stroke="#444" stroke-width="0.9"/>
<line x1="525.35" y1="450.6" x2="525.35" y2="452.6" stroke="#444" stroke-width="0.9"/>
<line x1="538.1" y1="450.6" x2="538.1" y2="452.6" stroke="#444" stroke-width="0.9"/>
<line x1="550.85" y1="450.6" x2="550.85" y2="452.6" stroke="#444" stroke-width="0.9"/>
<line x1="563.6" y1="450.6" x2="563.6" y2="452.6" stroke="#444" stroke-width="0.9"/>
<text x="0" y="0" font-size="7.8" text-anchor="start" font-weight="normal" fill="#333" font-family="Liberation Sans" font-style="normal" transform="translate(457.18 460.3) scale(1 1.12)" letter-spacing="0.25">-1.0</text>
<text x="0" y="0" font-size="7.8" text-anchor="start" font-weight="normal" fill="#333" font-family="Liberation Sans" font-style="normal" transform="translate(478.15 460.3) scale(1 1.12)" letter-spacing="0.25">-0.5</text>
<text x="0" y="0" font-size="7.8" text-anchor="start" font-weight="normal" fill="#333" font-family="Liberation Sans" font-style="normal" transform="translate(505.86 460.3) scale(1 1.12)" letter-spacing="0.25">0.0</text>
<text x="0" y="0" font-size="7.8" text-anchor="start" font-weight="normal" fill="#333" font-family="Liberation Sans" font-style="normal" transform="translate(534.48 460.3) scale(1 1.12)" letter-spacing="0.25">0.5</text>
<text x="0" y="0" font-size="7.8" text-anchor="start" font-weight="normal" fill="#333" font-family="Liberation Sans" font-style="normal" transform="translate(558.02 460.3) scale(1 1.12)" letter-spacing="0.25">1.0</text>
<line x1="576.7" y1="451" x2="576.7" y2="453.3" stroke="#444" stroke-width="0.9"/>
<line x1="589.6" y1="451" x2="589.6" y2="453.3" stroke="#444" stroke-width="0.9"/>
<line x1="602.5" y1="451" x2="602.5" y2="453.3" stroke="#444" stroke-width="0.9"/>
<line x1="615.4" y1="451" x2="615.4" y2="453.3" stroke="#444" stroke-width="0.9"/>
<line x1="628.3" y1="451" x2="628.3" y2="453.3" stroke="#444" stroke-width="0.9"/>
<line x1="641.2" y1="451" x2="641.2" y2="453.3" stroke="#444" stroke-width="0.9"/>
<line x1="654.1" y1="451" x2="654.1" y2="453.3" stroke="#444" stroke-width="0.9"/>
<line x1="667" y1="451" x2="667" y2="453.3" stroke="#444" stroke-width="0.9"/>
<line x1="679.9" y1="451" x2="679.9" y2="453.3" stroke="#444" stroke-width="0.9"/>
<text x="0" y="0" font-size="7.8" text-anchor="start" font-weight="normal" fill="#333" font-family="Liberation Sans" font-style="normal" transform="translate(571.98 460.4) scale(1 1.12)" letter-spacing="0.25">-1.0</text>
<text x="0" y="0" font-size="7.8" text-anchor="start" font-weight="normal" fill="#333" font-family="Liberation Sans" font-style="normal" transform="translate(593.6 460.4) scale(1 1.12)" letter-spacing="0.25">-0.5</text>
<text x="0" y="0" font-size="7.8" text-anchor="start" font-weight="normal" fill="#333" font-family="Liberation Sans" font-style="normal" transform="translate(621.81 460.4) scale(1 1.12)" letter-spacing="0.25">0.0</text>
<text x="0" y="0" font-size="7.8" text-anchor="start" font-weight="normal" fill="#333" font-family="Liberation Sans" font-style="normal" transform="translate(649.43 460.4) scale(1 1.12)" letter-spacing="0.25">0.5</text>
<text x="0" y="0" font-size="7.8" text-anchor="start" font-weight="normal" fill="#333" font-family="Liberation Sans" font-style="normal" transform="translate(673.17 460.4) scale(1 1.12)" letter-spacing="0.25">1.0</text>
<line x1="31" y1="525.9" x2="31" y2="680.7" stroke="#58595b" stroke-width="1"/>
<line x1="30.5" y1="680.2" x2="196.1" y2="680.2" stroke="#58595b" stroke-width="1"/>
<line x1="31" y1="680.2" x2="33" y2="680.2" stroke="#58595b" stroke-width="0.8"/>
<text x="30.6" y="682.3" font-size="9.6" text-anchor="end" font-weight="normal" fill="#2b2b2b" font-family="Liberation Sans" font-style="normal">0</text>
<line x1="31" y1="660.95" x2="33" y2="660.95" stroke="#58595b" stroke-width="0.8"/>
<text x="30.6" y="663.05" font-size="9.6" text-anchor="end" font-weight="normal" fill="#2b2b2b" font-family="Liberation Sans" font-style="normal">20</text>
<line x1="31" y1="641.7" x2="33" y2="641.7" stroke="#58595b" stroke-width="0.8"/>
<text x="30.6" y="643.8" font-size="9.6" text-anchor="end" font-weight="normal" fill="#2b2b2b" font-family="Liberation Sans" font-style="normal">40</text>
<line x1="31" y1="622.45" x2="33" y2="622.45" stroke="#58595b" stroke-width="0.8"/>
<text x="30.6" y="624.55" font-size="9.6" text-anchor="end" font-weight="normal" fill="#2b2b2b" font-family="Liberation Sans" font-style="normal">60</text>
<line x1="31" y1="603.2" x2="33" y2="603.2" stroke="#58595b" stroke-width="0.8"/>
<text x="30.6" y="605.3" font-size="9.6" text-anchor="end" font-weight="normal" fill="#2b2b2b" font-family="Liberation Sans" font-style="normal">80</text>
<line x1="31" y1="583.95" x2="33" y2="583.95" stroke="#58595b" stroke-width="0.8"/>
<text x="30.6" y="586.05" font-size="9.6" text-anchor="end" font-weight="normal" fill="#2b2b2b" font-family="Liberation Sans" font-style="normal">100</text>
<line x1="31" y1="564.7" x2="33" y2="564.7" stroke="#58595b" stroke-width="0.8"/>
<text x="30.6" y="566.8" font-size="9.6" text-anchor="end" font-weight="normal" fill="#2b2b2b" font-family="Liberation Sans" font-style="normal">120</text>
<line x1="31" y1="545.45" x2="33" y2="545.45" stroke="#58595b" stroke-width="0.8"/>
<text x="30.6" y="547.55" font-size="9.6" text-anchor="end" font-weight="normal" fill="#2b2b2b" font-family="Liberation Sans" font-style="normal">140</text>
<line x1="31" y1="526.2" x2="33" y2="526.2" stroke="#58595b" stroke-width="0.8"/>
<text x="30.6" y="531" font-size="9.6" text-anchor="end" font-weight="normal" fill="#2b2b2b" font-family="Liberation Sans" font-style="normal">160</text>
<line x1="31" y1="680.2" x2="31" y2="678.2" stroke="#58595b" stroke-width="0.8"/>
<line x1="47.46" y1="680.2" x2="47.46" y2="678.2" stroke="#58595b" stroke-width="0.8"/>
<line x1="63.92" y1="680.2" x2="63.92" y2="678.2" stroke="#58595b" stroke-width="0.8"/>
<line x1="80.38" y1="680.2" x2="80.38" y2="678.2" stroke="#58595b" stroke-width="0.8"/>
<line x1="96.84" y1="680.2" x2="96.84" y2="678.2" stroke="#58595b" stroke-width="0.8"/>
<line x1="113.3" y1="680.2" x2="113.3" y2="678.2" stroke="#58595b" stroke-width="0.8"/>
<line x1="129.76" y1="680.2" x2="129.76" y2="678.2" stroke="#58595b" stroke-width="0.8"/>
<line x1="146.22" y1="680.2" x2="146.22" y2="678.2" stroke="#58595b" stroke-width="0.8"/>
<line x1="162.68" y1="680.2" x2="162.68" y2="678.2" stroke="#58595b" stroke-width="0.8"/>
<line x1="179.14" y1="680.2" x2="179.14" y2="678.2" stroke="#58595b" stroke-width="0.8"/>
<line x1="195.6" y1="680.2" x2="195.6" y2="678.2" stroke="#58595b" stroke-width="0.8"/>
<text x="31" y="688.6" font-size="9.6" text-anchor="middle" font-weight="normal" fill="#2b2b2b" font-family="Liberation Sans" font-style="normal">0</text>
<text x="63.92" y="688.6" font-size="9.6" text-anchor="middle" font-weight="normal" fill="#2b2b2b" font-family="Liberation Sans" font-style="normal">0.2</text>
<text x="96.84" y="688.6" font-size="9.6" text-anchor="middle" font-weight="normal" fill="#2b2b2b" font-family="Liberation Sans" font-style="normal">0.4</text>
<text x="129.76" y="688.6" font-size="9.6" text-anchor="middle" font-weight="normal" fill="#2b2b2b" font-family="Liberation Sans" font-style="normal">0.6</text>
<text x="162.68" y="688.6" font-size="9.6" text-anchor="middle" font-weight="normal" fill="#2b2b2b" font-family="Liberation Sans" font-style="normal">0.8</text>
<text x="195.6" y="688.6" font-size="9.6" text-anchor="middle" font-weight="normal" fill="#2b2b2b" font-family="Liberation Sans" font-style="normal">1</text>
<text x="110.3" y="698.3" font-size="9.84" text-anchor="middle" font-weight="normal" fill="#2b2b2b" font-family="Liberation Sans" font-style="normal">Position from simulation</text>
<text x="0" y="0" font-size="9.95" text-anchor="middle" font-weight="normal" fill="#2b2b2b" font-family="Liberation Sans" font-style="normal" transform="translate(12 608.2) rotate(-90)">Intensity from simulation</text>
<polyline points="31,621.3 47.46,613.98 63.92,605.12 80.38,598.48 96.84,597.71 113.3,602.05 129.76,611.09 146.22,625.72 162.68,638.62 179.14,648.82 195.6,656.14" fill="none" stroke="#1a1a1a" stroke-width="1.6" stroke-linejoin="round"/>
<rect x="209.3" y="503.4" width="202.3" height="156.8" fill="none" stroke="#58595b" stroke-width="1"/>
<line x1="206.8" y1="519.9" x2="209.3" y2="519.9" stroke="#58595b" stroke-width="0.8"/>
<line x1="206.8" y1="644.5" x2="209.3" y2="644.5" stroke="#58595b" stroke-width="0.8"/>
<line x1="225.9" y1="660.2" x2="225.9" y2="662.5" stroke="#58595b" stroke-width="0.8"/>
<line x1="394.6" y1="660.2" x2="394.6" y2="662.5" stroke="#58595b" stroke-width="0.8"/>
<text x="0" y="0" font-size="9.6" text-anchor="middle" font-weight="normal" fill="#333" font-family="Liberation Sans" font-style="normal" transform="translate(202.6 520.6) rotate(-90)">More</text>
<text x="0" y="0" font-size="11" text-anchor="middle" font-weight="normal" fill="#333" font-family="Liberation Sans" font-style="normal" transform="translate(202.6 579.8) rotate(-90)">dsDNA</text>
<text x="0" y="0" font-size="9.6" text-anchor="middle" font-weight="normal" fill="#333" font-family="Liberation Sans" font-style="normal" transform="translate(202.6 644.4) rotate(-90)">Less</text>
<text x="226.6" y="673.8" font-size="9.8" text-anchor="middle" font-weight="normal" fill="#333" font-family="Liberation Sans" font-style="normal">Less</text>
<text x="313.4" y="675.3" font-size="11.3" text-anchor="middle" font-weight="normal" fill="#333" font-family="Liberation Sans" font-style="normal">FUS-ERG</text>
<text x="393.9" y="673.8" font-size="9.75" text-anchor="middle" font-weight="normal" fill="#333" font-family="Liberation Sans" font-style="normal">More</text>
<circle cx="218.8" cy="511.8" r="3.3" fill="none" stroke="#0f6b35" stroke-width="2.0"/>
<circle cx="242.1" cy="511.8" r="3.3" fill="none" stroke="#0f6b35" stroke-width="2.0"/>
<circle cx="265.5" cy="511.8" r="3.3" fill="none" stroke="#0f6b35" stroke-width="2.0"/>
<circle cx="286.9" cy="511.8" r="3.3" fill="none" stroke="#0f6b35" stroke-width="2.0"/>
<circle cx="309.8" cy="511.8" r="3.3" fill="none" stroke="#0f6b35" stroke-width="2.0"/>
<circle cx="333.4" cy="511.8" r="3.3" fill="none" stroke="#0f6b35" stroke-width="2.0"/>
<circle cx="356" cy="511.8" r="3.3" fill="none" stroke="#0f6b35" stroke-width="2.0"/>
<circle cx="380.1" cy="511.8" r="3.3" fill="none" stroke="#0f6b35" stroke-width="2.0"/>
<circle cx="401.3" cy="511.8" r="3.3" fill="none" stroke="#0f6b35" stroke-width="2.0"/>
<circle cx="218.8" cy="534.8" r="4.4" fill="#ef5a2a"/>
<circle cx="242.1" cy="534.8" r="3.3" fill="none" stroke="#0f6b35" stroke-width="2.0"/>
<circle cx="265.5" cy="534.8" r="3.3" fill="none" stroke="#0f6b35" stroke-width="2.0"/>
<circle cx="286.9" cy="534.8" r="3.3" fill="none" stroke="#0f6b35" stroke-width="2.0"/>
<circle cx="309.8" cy="534.8" r="3.3" fill="none" stroke="#0f6b35" stroke-width="2.0"/>
<circle cx="333.4" cy="534.8" r="3.3" fill="none" stroke="#0f6b35" stroke-width="2.0"/>
<circle cx="356" cy="534.8" r="3.3" fill="none" stroke="#0f6b35" stroke-width="2.0"/>
<circle cx="380.1" cy="534.8" r="3.3" fill="none" stroke="#0f6b35" stroke-width="2.0"/>
<circle cx="401.3" cy="534.8" r="3.3" fill="none" stroke="#0f6b35" stroke-width="2.0"/>
<circle cx="218.8" cy="557.8" r="4.4" fill="#ef5a2a"/>
<circle cx="242.1" cy="557.8" r="3.3" fill="none" stroke="#0f6b35" stroke-width="2.0"/>
<circle cx="265.5" cy="557.8" r="3.3" fill="none" stroke="#0f6b35" stroke-width="2.0"/>
<circle cx="286.9" cy="557.8" r="3.3" fill="none" stroke="#0f6b35" stroke-width="2.0"/>
<circle cx="309.8" cy="557.8" r="3.3" fill="none" stroke="#0f6b35" stroke-width="2.0"/>
<circle cx="333.4" cy="557.8" r="3.3" fill="none" stroke="#0f6b35" stroke-width="2.0"/>
<circle cx="356" cy="557.8" r="3.3" fill="none" stroke="#0f6b35" stroke-width="2.0"/>
<circle cx="380.1" cy="557.8" r="3.3" fill="none" stroke="#0f6b35" stroke-width="2.0"/>
<circle cx="401.3" cy="557.8" r="3.3" fill="none" stroke="#0f6b35" stroke-width="2.0"/>
<path d="M215.8 576.9 L221.8 582.9 M221.8 576.9 L215.8 582.9" stroke="#2a7ec3" stroke-width="2.5" stroke-linecap="round"/>
<circle cx="242.1" cy="580.3" r="3.3" fill="none" stroke="#0f6b35" stroke-width="2.0"/>
<circle cx="265.5" cy="580.3" r="3.3" fill="none" stroke="#0f6b35" stroke-width="2.0"/>
<circle cx="286.9" cy="580.3" r="3.3" fill="none" stroke="#0f6b35" stroke-width="2.0"/>
<circle cx="309.8" cy="580.3" r="3.3" fill="none" stroke="#0f6b35" stroke-width="2.0"/>
<circle cx="333.4" cy="580.3" r="3.3" fill="none" stroke="#0f6b35" stroke-width="2.0"/>
<circle cx="356" cy="580.3" r="3.3" fill="none" stroke="#0f6b35" stroke-width="2.0"/>
<circle cx="380.1" cy="580.3" r="3.3" fill="none" stroke="#0f6b35" stroke-width="2.0"/>
<circle cx="401.3" cy="580.3" r="3.3" fill="none" stroke="#0f6b35" stroke-width="2.0"/>
<path d="M215.8 599.8 L221.8 605.8 M221.8 599.8 L215.8 605.8" stroke="#2a7ec3" stroke-width="2.5" stroke-linecap="round"/>
<circle cx="242.1" cy="603.2" r="4.4" fill="#ef5a2a"/>
<circle cx="265.5" cy="603.2" r="4.4" fill="#ef5a2a"/>
<circle cx="286.9" cy="603.2" r="3.3" fill="none" stroke="#0f6b35" stroke-width="2.0"/>
<circle cx="309.8" cy="603.2" r="3.3" fill="none" stroke="#0f6b35" stroke-width="2.0"/>
<circle cx="333.4" cy="603.2" r="3.3" fill="none" stroke="#0f6b35" stroke-width="2.0"/>
<circle cx="356" cy="603.2" r="3.3" fill="none" stroke="#0f6b35" stroke-width="2.0"/>
<circle cx="380.1" cy="603.2" r="3.3" fill="none" stroke="#0f6b35" stroke-width="2.0"/>
<circle cx="401.3" cy="603.2" r="4.4" fill="#ef5a2a"/>
<path d="M215.8 624 L221.8 630 M221.8 624 L215.8 630" stroke="#2a7ec3" stroke-width="2.5" stroke-linecap="round"/>
<circle cx="242.1" cy="627.4" r="4.4" fill="#ef5a2a"/>
<circle cx="265.5" cy="627.4" r="4.4" fill="#ef5a2a"/>
<circle cx="286.9" cy="627.4" r="4.4" fill="#ef5a2a"/>
<circle cx="309.8" cy="627.4" r="3.3" fill="none" stroke="#0f6b35" stroke-width="2.0"/>
<circle cx="333.4" cy="627.4" r="3.3" fill="none" stroke="#0f6b35" stroke-width="2.0"/>
<circle cx="356" cy="627.4" r="3.3" fill="none" stroke="#0f6b35" stroke-width="2.0"/>
<circle cx="380.1" cy="627.4" r="4.4" fill="#ef5a2a"/>
<circle cx="401.3" cy="627.4" r="4.4" fill="#ef5a2a"/>
<path d="M215.8 649.5 L221.8 655.5 M221.8 649.5 L215.8 655.5" stroke="#2a7ec3" stroke-width="2.5" stroke-linecap="round"/>
<circle cx="242.1" cy="652.9" r="4.4" fill="#ef5a2a"/>
<circle cx="265.5" cy="652.9" r="4.4" fill="#ef5a2a"/>
<circle cx="286.9" cy="652.9" r="4.4" fill="#ef5a2a"/>
<circle cx="309.8" cy="652.9" r="4.4" fill="#ef5a2a"/>
<circle cx="333.4" cy="652.9" r="4.4" fill="#ef5a2a"/>
<circle cx="356" cy="652.9" r="4.4" fill="#ef5a2a"/>
<circle cx="380.1" cy="652.9" r="4.4" fill="#ef5a2a"/>
<circle cx="401.3" cy="652.9" r="4.4" fill="#ef5a2a"/>
<path d="M219.2 681.6 L225.2 687.6 M225.2 681.6 L219.2 687.6" stroke="#2a7ec3" stroke-width="2.5" stroke-linecap="round"/>
<text x="234" y="688.1" font-size="9.8" text-anchor="start" font-weight="normal" fill="#333" font-family="Liberation Sans" font-style="normal">One-phase</text>
<circle cx="305" cy="685.2" r="4.4" fill="#ef5a2a"/>
<text x="314.2" y="688.1" font-size="9.8" text-anchor="start" font-weight="normal" fill="#333" font-family="Liberation Sans" font-style="normal">Homogeneous condensate</text>
<circle cx="222.2" cy="703.8" r="3.3" fill="none" stroke="#0f6b35" stroke-width="2.0"/>
<text x="233.6" y="706.7" font-size="9.83" text-anchor="start" font-weight="normal" fill="#333" font-family="Liberation Sans" font-style="normal">Hollow co-condensate</text>
<line x1="499.7" y1="525.8" x2="499.7" y2="680.7" stroke="#58595b" stroke-width="1"/>
<line x1="499.2" y1="680.2" x2="664.4" y2="680.2" stroke="#58595b" stroke-width="1"/>
<line x1="499.7" y1="680.2" x2="501.7" y2="680.2" stroke="#58595b" stroke-width="0.8"/>
<text x="498.7" y="683.6" font-size="9.6" text-anchor="end" font-weight="normal" fill="#2b2b2b" font-family="Liberation Sans" font-style="normal">0</text>
<line x1="499.7" y1="641.68" x2="501.7" y2="641.68" stroke="#58595b" stroke-width="0.8"/>
<text x="498.7" y="645.08" font-size="9.6" text-anchor="end" font-weight="normal" fill="#2b2b2b" font-family="Liberation Sans" font-style="normal">10</text>
<line x1="499.7" y1="603.15" x2="501.7" y2="603.15" stroke="#58595b" stroke-width="0.8"/>
<text x="498.7" y="606.55" font-size="9.6" text-anchor="end" font-weight="normal" fill="#2b2b2b" font-family="Liberation Sans" font-style="normal">20</text>
<line x1="499.7" y1="564.62" x2="501.7" y2="564.62" stroke="#58595b" stroke-width="0.8"/>
<text x="498.7" y="568.02" font-size="9.6" text-anchor="end" font-weight="normal" fill="#2b2b2b" font-family="Liberation Sans" font-style="normal">30</text>
<line x1="499.7" y1="526.1" x2="501.7" y2="526.1" stroke="#58595b" stroke-width="0.8"/>
<text x="498.7" y="529.5" font-size="9.6" text-anchor="end" font-weight="normal" fill="#2b2b2b" font-family="Liberation Sans" font-style="normal">40</text>
<line x1="499.7" y1="680.2" x2="499.7" y2="678.2" stroke="#58595b" stroke-width="0.8"/>
<line x1="516.12" y1="680.2" x2="516.12" y2="678.2" stroke="#58595b" stroke-width="0.8"/>
<line x1="532.54" y1="680.2" x2="532.54" y2="678.2" stroke="#58595b" stroke-width="0.8"/>
<line x1="548.96" y1="680.2" x2="548.96" y2="678.2" stroke="#58595b" stroke-width="0.8"/>
<line x1="565.38" y1="680.2" x2="565.38" y2="678.2" stroke="#58595b" stroke-width="0.8"/>
<line x1="581.8" y1="680.2" x2="581.8" y2="678.2" stroke="#58595b" stroke-width="0.8"/>
<line x1="598.22" y1="680.2" x2="598.22" y2="678.2" stroke="#58595b" stroke-width="0.8"/>
<line x1="614.64" y1="680.2" x2="614.64" y2="678.2" stroke="#58595b" stroke-width="0.8"/>
<line x1="631.06" y1="680.2" x2="631.06" y2="678.2" stroke="#58595b" stroke-width="0.8"/>
<line x1="647.48" y1="680.2" x2="647.48" y2="678.2" stroke="#58595b" stroke-width="0.8"/>
<line x1="663.9" y1="680.2" x2="663.9" y2="678.2" stroke="#58595b" stroke-width="0.8"/>
<text x="499.7" y="690.1" font-size="9.6" text-anchor="middle" font-weight="normal" fill="#2b2b2b" font-family="Liberation Sans" font-style="normal">0</text>
<text x="532.54" y="690.1" font-size="9.6" text-anchor="middle" font-weight="normal" fill="#2b2b2b" font-family="Liberation Sans" font-style="normal">0.2</text>
<text x="565.38" y="690.1" font-size="9.6" text-anchor="middle" font-weight="normal" fill="#2b2b2b" font-family="Liberation Sans" font-style="normal">0.4</text>
<text x="598.22" y="690.1" font-size="9.6" text-anchor="middle" font-weight="normal" fill="#2b2b2b" font-family="Liberation Sans" font-style="normal">0.6</text>
<text x="631.06" y="690.1" font-size="9.6" text-anchor="middle" font-weight="normal" fill="#2b2b2b" font-family="Liberation Sans" font-style="normal">0.8</text>
<text x="663.9" y="690.1" font-size="9.6" text-anchor="middle" font-weight="normal" fill="#2b2b2b" font-family="Liberation Sans" font-style="normal">1</text>
<text x="584.4" y="700.9" font-size="9.84" text-anchor="middle" font-weight="normal" fill="#2b2b2b" font-family="Liberation Sans" font-style="normal">Position from simulation</text>
<text x="0" y="0" font-size="9.95" text-anchor="middle" font-weight="normal" fill="#2b2b2b" font-family="Liberation Sans" font-style="normal" transform="translate(485 608.3) rotate(-90)">Intensity from simulation</text>
<polyline points="499.7,633.58 507.91,625.88 516.12,621.64 524.33,621.26 532.54,624.72 540.75,629.73 548.96,633.58 557.17,636.67 565.38,638.59 573.59,639.36 581.8,639.56 590.01,638.98 598.22,637.44 606.43,634.74 614.64,630.89 622.85,626.65 631.06,623.18 639.27,622.22 647.48,627.42 655.69,636.67 663.9,643.99" fill="none" stroke="#1fa9e4" stroke-width="1.8" stroke-linejoin="round"/>
<g transform="translate(297.2 91.4) scale(1)" fill="none" stroke="#22a5e6" stroke-linecap="round" stroke-linejoin="round">
<ellipse cx="-0.2" cy="0.2" rx="3.0" ry="1.85" transform="rotate(-42)" stroke-width="0.95"/>
<path d="M2.6 -1.5 L10.0 5.4" stroke-width="1.05"/>
<path d="M7.8 7.1 L12.6 2.8 L13.9 8.9 Z" fill="#22a5e6" stroke="#22a5e6" stroke-width="0.4"/>
<path d="M10.0 14.5 L13.8 10.9" stroke-width="1.35"/>
</g>
<g transform="translate(627.7 95) scale(0.9)" fill="none" stroke="#22a5e6" stroke-linecap="round" stroke-linejoin="round">
<ellipse cx="-0.2" cy="0.2" rx="3.0" ry="1.85" transform="rotate(-42)" stroke-width="0.95"/>
<path d="M2.6 -1.5 L10.0 5.4" stroke-width="1.05"/>
<path d="M7.8 7.1 L12.6 2.8 L13.9 8.9 Z" fill="#22a5e6" stroke="#22a5e6" stroke-width="0.4"/>
<path d="M10.0 14.5 L13.8 10.9" stroke-width="1.35"/>
</g>
</svg>
</body></html>
